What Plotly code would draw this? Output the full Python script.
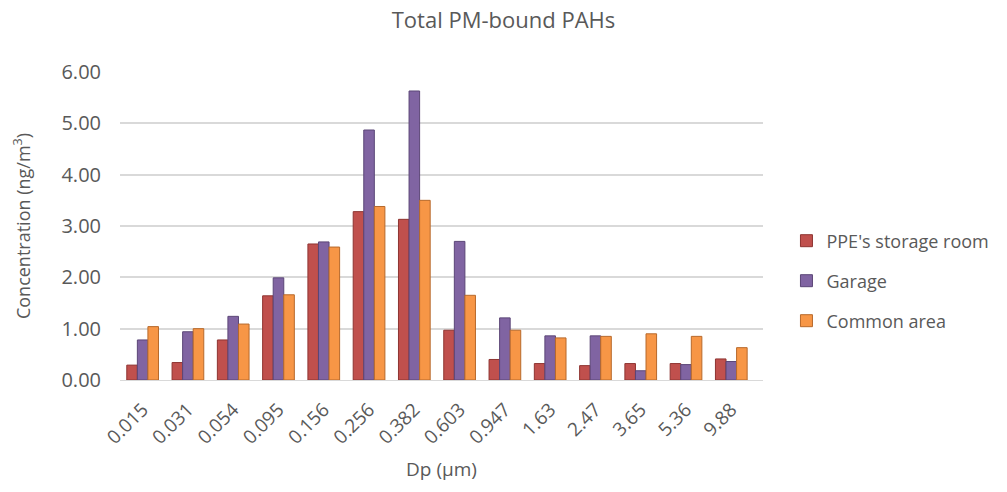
import plotly.graph_objects as go

categories = ["0.015", "0.031", "0.054", "0.095", "0.156", "0.256", "0.382",
              "0.603", "0.947", "1.63", "2.47", "3.65", "5.36", "9.88"]
ppe = [0.29, 0.34, 0.78, 1.64, 2.65, 3.28, 3.13, 0.97, 0.40, 0.32, 0.28, 0.32, 0.32, 0.41]
garage = [0.78, 0.94, 1.24, 1.99, 2.69, 4.87, 5.63, 2.70, 1.21, 0.86, 0.86, 0.18, 0.30, 0.36]
common = [1.04, 1.00, 1.09, 1.66, 2.59, 3.38, 3.50, 1.65, 0.97, 0.82, 0.85, 0.90, 0.85, 0.63]
series_names = ["PPE's storage room", "Garage", "Common area"]
colors = ["#C0504D", "#8064A2", "#F79646"]
side_colors = ["#8E3431", "#5B4677", "#B7692B"]

FONT = "Open Sans"
TXT = "#595959"

fig = go.Figure()
legends = ["legend", "legend2", "legend3"]
for name, vals, c, sc, lg in zip(series_names, [ppe, garage, common], colors, side_colors, legends):
    fig.add_trace(go.Bar(
        x=categories, y=vals, name=name, legend=lg,
        marker=dict(color=c, line=dict(color=sc, width=1)),
    ))

leg_common = dict(
    xref="container", yref="container", x=0.781, xanchor="left", yanchor="middle",
    font=dict(family=FONT, size=18, color=TXT), bgcolor="rgba(0,0,0,0)",
    itemwidth=30,
)
fig.update_layout(
    width=1007, height=492,
    paper_bgcolor="white", plot_bgcolor="white",
    margin=dict(l=120, r=244, t=72, b=112),
    barmode="group", bargap=0.3, bargroupgap=0.0,
    title=dict(text="Total PM-bound PAHs", x=0.500, xanchor="center", y=0.958, yanchor="middle",
               font=dict(family=FONT, size=22, color=TXT)),
    showlegend=True,
    legend=dict(y=1 - 241 / 492, **leg_common),
    legend2=dict(y=1 - 281 / 492, **leg_common),
    legend3=dict(y=1 - 321 / 492, **leg_common),
    xaxis=dict(
        range=[-0.5, 13.7],
        tickangle=-45, tickfont=dict(family=FONT, size=19, color=TXT),
        ticklabelstandoff=10,
        showgrid=False, showline=True, linecolor="#D9D9D9", linewidth=1,
        title=dict(text="Dp (μm)", font=dict(family=FONT, size=19, color=TXT), standoff=14),
    ),
    yaxis=dict(
        range=[0, 6], dtick=1, tickformat=".2f",
        tickfont=dict(family=FONT, size=20, color=TXT),
        ticklabelstandoff=18,
        showgrid=True, gridcolor="#D9D9D9", gridwidth=2,
        zeroline=False, ticks="", ticklen=0,
        title=dict(text="Concentration (ng/m<sup>3</sup>)", font=dict(family=FONT, size=18, color=TXT), standoff=26),
    ),
)

fig.write_html("out.html")
